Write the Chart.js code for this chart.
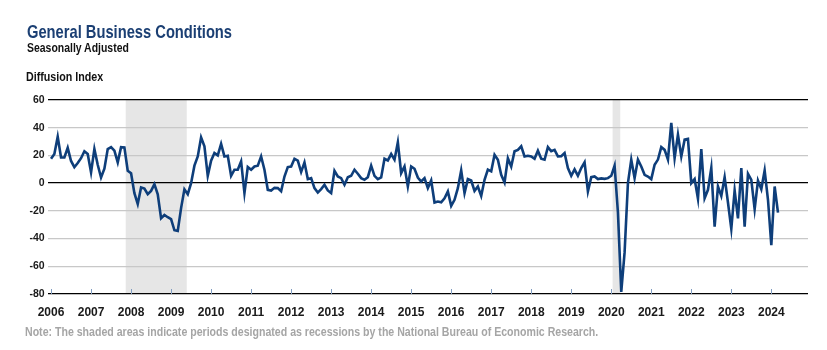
<!DOCTYPE html>
<html>
<head>
<meta charset="utf-8">
<script src="https://cdn.jsdelivr.net/npm/chart.js@4"></script>
<style>
  body { margin: 0; background: #fff; }
  #wrap { position: relative; width: 827px; height: 350px; font-family: "Liberation Sans", Arial, sans-serif; }
  .txt { position: absolute; white-space: nowrap; font-weight: bold; transform-origin: 0 0; }
  .title { left: 27px; top: 21px; font-size: 18.5px; color: #1b3f73; }
  .sub { left: 27px; top: 41px; font-size: 12.5px; color: #111; }
  .ylab { left: 26px; top: 70px; font-size: 12.5px; color: #111; }
  .note { left: 25px; top: 325px; font-size: 12.5px; color: #a5a5a5; }
  canvas { position: absolute; left: 0; top: 0; }
</style>
</head>
<body>
<div id="wrap">
  <canvas id="gbcChart" width="827" height="350"></canvas>
  <div class="txt title" data-w="205">General Business Conditions</div>
  <div class="txt sub" data-w="102">Seasonally Adjusted</div>
  <div class="txt ylab" data-w="77">Diffusion Index</div>
  <div class="txt note" data-w="573">Note: The shaded areas indicate periods designated as recessions by the National Bureau of Economic Research.</div>
</div>
<script>
// mensual, ene 2006 - mar 2024
const startYear = 2006;
const gbc = [
  17.6, 21, 33.5, 18.5, 18.5, 25.5, 16, 11.5, 14.5, 18, 23, 21,          // 2006
  7.7, 24.6, 13.3, 4.1, 10.4, 24.6, 26, 23.4, 15, 26, 25.8, 9,           // 2007
  7.2, -7.2, -15, -3.1, -3.9, -8, -5.6, -0.7, -8, -25.4, -23, -24.6,     // 2008
  -26, -34, -34.5, -18, -4.5, -8, 0, 12.6, 19.3, 33, 26.6, 5.3,          // 2009
  16.2, 21.7, 20, 28.3, 19.3, 19.8, 5.3, 9.7, 9.7, 15.7, -7.2, 11.6,     // 2010
  9.7, 12, 12.6, 19.3, 9.7, -4.8, -5.3, -3.4, -3.6, -5.8, 4.8, 11.6,     // 2011
  12, 17.6, 16.2, 8, 15, 2.9, 3.6, -3.6, -6.8, -4.3, -1.2, -5.3,         // 2012
  -7.2, 8.9, 4.8, 3.6, -1.2, 4.3, 5.3, 9.7, 6.8, 3.6, 2.4, 4.3,          // 2013
  12.6, 5.3, 2.9, 4.1, 17.6, 16.4, 21, 16.9, 29.5, 7.2, 12, -2.4,        // 2014
  12, 10.4, 4.1, 1.2, 3.6, -3.6, 1.9, -14, -13.3, -13.8, -10.9, -6,      // 2015
  -16.4, -12, -3.6, 9.2, -7.2, 2.9, 1.9, -5.6, -2.4, -9.2, 2.4, 9.7,     // 2016
  8.5, 20.5, 16.9, 6, 0.5, 18, 12, 23, 24, 26.6, 19.3, 19.8,             // 2017
  19.3, 17.6, 23.4, 17.6, 16.9, 26, 23, 24, 19.3, 19.5, 21.7, 10.9,      // 2018
  5.3, 10, 5.3, 10.9, 15, -6, 4.3, 4.8, 2.9, 3.4, 3.1, 3.6,              // 2019
  5.3, 12.6, -21, -78.5, -50, 0, 17, 3.6, 17, 12, 6, 4.8,                // 2020
  2.9, 13.3, 17, 26, 24, 17, 43.5, 18, 35, 19.3, 31.4, 31.9,             // 2021
  0, 2.9, -11.2, 24.6, -10.9, -4.8, 10.9, -31.4, -2.4, -9.2, 4.3, -14,   // 2022
  -33, -5.3, -25.4, 10.9, -31.4, 6.8, 2.4, -18.8, 1.9, -4.3, 9.2, -12,   // 2023
  -44.7, -2.4, -21.3                                                      // 2024
];
const yearTicks = [2006, 2007, 2008, 2009, 2010, 2011, 2012, 2013, 2014, 2015,
  2016, 2017, 2018, 2019, 2020, 2021, 2022, 2023, 2024];
const yTicks = [60, 40, 20, 0, -20, -40, -60, -80];
const recessions = [["2007-12", "2009-06"], ["2020-02", "2020-04"]];

const monthIndex = s => {
  const [y, m] = s.split("-").map(Number);
  return (y - startYear) * 12 + (m - 1);
};

const FONT = "'Liberation Sans', Arial, sans-serif";

// textos estrechos: se comprimen al ancho del original
document.querySelectorAll(".txt").forEach(el => {
  const w = Number(el.dataset.w);
  el.style.transform = `scaleX(${w / el.offsetWidth})`;
});

// sombreado de recesiones, antes de la cuadricula
const recessionShade = {
  id: "recessionShade",
  beforeDraw(chart) {
    const { ctx, chartArea, scales: { x } } = chart;
    ctx.save();
    ctx.fillStyle = "#e6e6e6";
    recessions.forEach(([a, b]) => {
      const x0 = x.getPixelForValue(monthIndex(a) - 0.6);
      const x1 = x.getPixelForValue(monthIndex(b) - 0.3);
      ctx.fillRect(x0, chartArea.top, x1 - x0, chartArea.bottom - chartArea.top);
    });
    ctx.restore();
  }
};

// marcas de año por encima del eje
const yearMarks = {
  id: "yearMarks",
  afterDraw(chart) {
    const { ctx, chartArea, scales: { x } } = chart;
    ctx.save();
    ctx.strokeStyle = "#7f9cc0";
    ctx.lineWidth = 1;
    yearTicks.forEach(yr => {
      const px = Math.round(x.getPixelForValue((yr - startYear) * 12)) + 0.5;
      ctx.beginPath();
      ctx.moveTo(px, chartArea.bottom - 5);
      ctx.lineTo(px, chartArea.bottom);
      ctx.stroke();
    });
    ctx.restore();
  }
};

const isDark = v => v === 60 || v === 0 || v === -80;

new Chart(document.getElementById("gbcChart").getContext("2d"), {
  type: "line",
  data: {
    datasets: [{
      data: gbc.map((v, i) => ({ x: i, y: v })),
      borderColor: "#0e3e7a",
      borderWidth: 2.6,
      pointRadius: 0,
      tension: 0,
    }]
  },
  options: {
    responsive: false,
    animation: false,
    layout: { padding: { left: 0, right: 19, top: 100, bottom: 30 } },
    plugins: { legend: { display: false }, tooltip: { enabled: false } },
    scales: {
      x: {
        type: "linear",
        min: -1,
        max: 227,
        afterFit: s => { s.height = 26; },
        afterBuildTicks: s => { s.ticks = yearTicks.map(yr => ({ value: (yr - startYear) * 12 })); },
        grid: { display: false },
        border: { display: false },
        ticks: {
          autoSkip: false,
          maxRotation: 0,
          padding: 3,
          color: "#1a1a1a",
          font: { family: FONT, size: 12, weight: "bold" },
          callback: v => String(startYear + v / 12)
        }
      },
      y: {
        min: -80,
        max: 60,
        afterFit: s => { s.width = 47.7; },
        afterBuildTicks: s => { s.ticks = yTicks.map(v => ({ value: v })); },
        border: { display: false },
        grid: {
          drawTicks: false,
          color: c => isDark(c.tick.value) ? "#000" : "#c8c8c8",
          lineWidth: c => isDark(c.tick.value) ? 1.3 : 1.2
        },
        ticks: {
          padding: 3,
          color: "#1a1a1a",
          font: { family: FONT, size: 10.5, weight: "bold" }
        }
      }
    }
  },
  plugins: [recessionShade, yearMarks]
});
</script>
</body>
</html>
